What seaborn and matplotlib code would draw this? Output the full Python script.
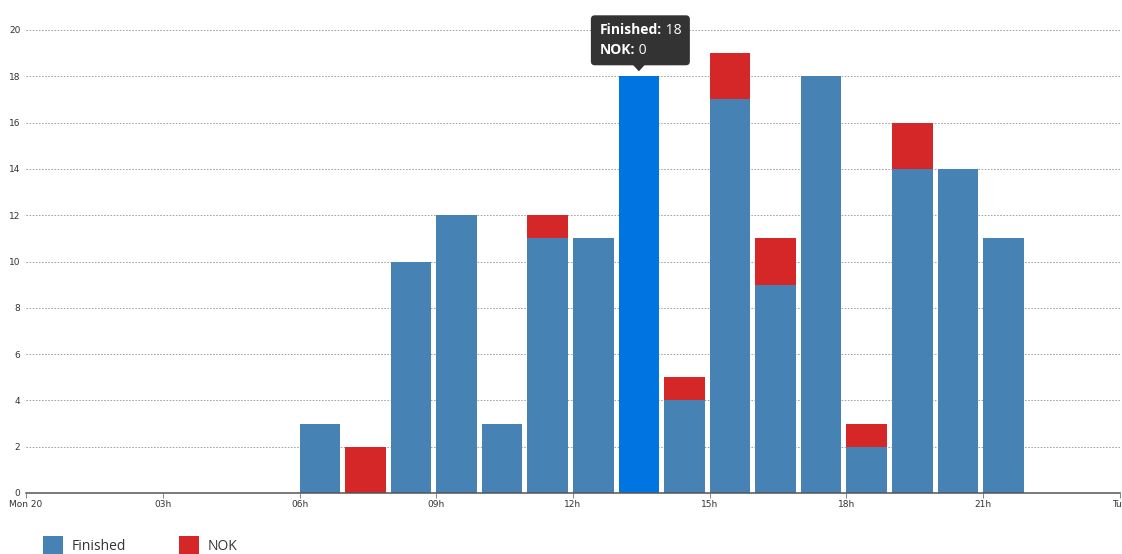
import numpy as np
import pandas as pd
import matplotlib
matplotlib.use("Agg")
import matplotlib.pyplot as plt
import seaborn as sns
from matplotlib.patches import FancyBboxPatch, Polygon, Rectangle
from matplotlib.transforms import IdentityTransform

# ---- data ----
hours = [6, 7, 8, 9, 10, 11, 12, 13, 14, 15, 16, 17, 18, 19, 20, 21]
finished = [3, 0, 10, 12, 3, 11, 11, 18, 4, 17, 9, 18, 2, 14, 14, 11]
nok = [0, 2, 0, 0, 0, 1, 0, 0, 1, 2, 2, 0, 1, 2, 0, 0]
highlight_hour = 13
x_tick_hours = [0, 3, 6, 9, 12, 15, 18, 21, 24]
x_tick_labels = ["Mon 20", "03h", "06h", "09h", "12h", "15h", "18h", "21h", "Tue"]
y_ticks = [0, 2, 4, 6, 8, 10, 12, 14, 16, 18, 20]
series_names = ["Finished", "NOK"]

C_FIN = "#4682b4"
C_NOK = "#d62728"
C_HOVER = "#0074e1"

BAR_W = 0.89

df = pd.DataFrame({"hour": hours, "finished": finished, "nok": nok})
df["total"] = df["finished"] + df["nok"]
df["center"] = df["hour"] + BAR_W / 2
df["state"] = np.where(df["hour"] == highlight_hour, "hover", "normal")

sns.set_style("white")
plt.rcParams["font.family"] = ["DejaVu Sans"]

W, H = 1122, 554
fig = plt.figure(figsize=(W / 100, H / 100), dpi=100)
ax = fig.add_axes([26 / W, 1 - 493 / H, (1120 - 26) / W, (493 - 30) / H])

sns.barplot(data=df, x="center", y="total", native_scale=True, width=BAR_W,
            color=C_NOK, saturation=1, linewidth=0, ax=ax, zorder=2)
sns.barplot(data=df, x="center", y="finished", hue="state", native_scale=True,
            width=BAR_W, dodge=False, palette={"normal": C_FIN, "hover": C_HOVER},
            saturation=1, linewidth=0, legend=False, ax=ax, zorder=3)

ax.set_xlim(0, 24)
ax.set_ylim(0, 20)
ax.set_xlabel("")
ax.set_ylabel("")
ax.set_xticks(x_tick_hours)
ax.set_xticklabels(x_tick_labels)
ax.set_yticks(y_ticks)
ax.set_yticklabels([str(v) for v in y_ticks])
for s in ["top", "right", "left"]:
    ax.spines[s].set_visible(False)
ax.spines["bottom"].set_color("#555555")
ax.spines["bottom"].set_linewidth(1.1)
ax.spines["bottom"].set_zorder(5)
ax.tick_params(axis="x", length=3.5, width=0.7, color="#888888", labelsize=6.5,
               labelcolor="#333333", pad=1.5, bottom=True)
ax.tick_params(axis="y", length=0, labelsize=6.5, labelcolor="#333333", pad=4)
ax.set_axisbelow(True)
ax.yaxis.grid(True, linestyle=(0, (1.6, 1.6)), color="#a0a0a0", linewidth=0.7)
ax.xaxis.grid(False)
for lab in ax.get_xticklabels():
    lab.set_clip_on(False)

# ---- legend (bottom-left) ----
legend_font = ["Open Sans", "DejaVu Sans"]
for i, (name, col) in enumerate(zip(series_names, [C_FIN, C_NOK])):
    x0 = 43 + i * 136
    fig.add_artist(Rectangle((x0, 0), 20, 18, transform=IdentityTransform(),
                             facecolor=col, edgecolor="none"))
    fig.text((x0 + 29) / W, 7 / H, name, fontsize=10, color="#333333",
             family=legend_font, va="center", ha="left")

# ---- tooltip ----
fig.canvas.draw()
row = df[df["hour"] == highlight_hour].iloc[0]
tx, ty = ax.transData.transform((row["center"], row["total"]))
ty = ty + 5
box_l, box_r = tx - 48, tx + 51
box_b, box_t = ty + 6, ty + 56
fig.add_artist(FancyBboxPatch((box_l, box_b), box_r - box_l, box_t - box_b,
                              boxstyle="round,pad=0,rounding_size=4",
                              transform=IdentityTransform(),
                              facecolor="#333333", edgecolor="none", zorder=10))
fig.add_artist(Polygon([(tx - 6, box_b + 0.5), (tx + 6, box_b + 0.5), (tx, ty)],
                       closed=True, transform=IdentityTransform(),
                       facecolor="#333333", edgecolor="none", zorder=10))
renderer = fig.canvas.get_renderer()
tip_font = ["Open Sans", "DejaVu Sans"]
lines = [("Finished:", f" {int(row['finished'])}"), ("NOK:", f" {int(row['nok'])}")]
for k, (lbl, val) in enumerate(lines):
    y = box_t - 15 - k * 20
    t1 = fig.text((box_l + 9) / W, y / H, lbl, fontsize=10, fontweight="bold",
                  color="white", family=tip_font, va="center", ha="left", zorder=11)
    ext = t1.get_window_extent(renderer)
    fig.text(ext.x1 / W, y / H, val, fontsize=10, color="white",
             family=tip_font, va="center", ha="left", zorder=11)

fig.savefig("out.png", dpi=100)
